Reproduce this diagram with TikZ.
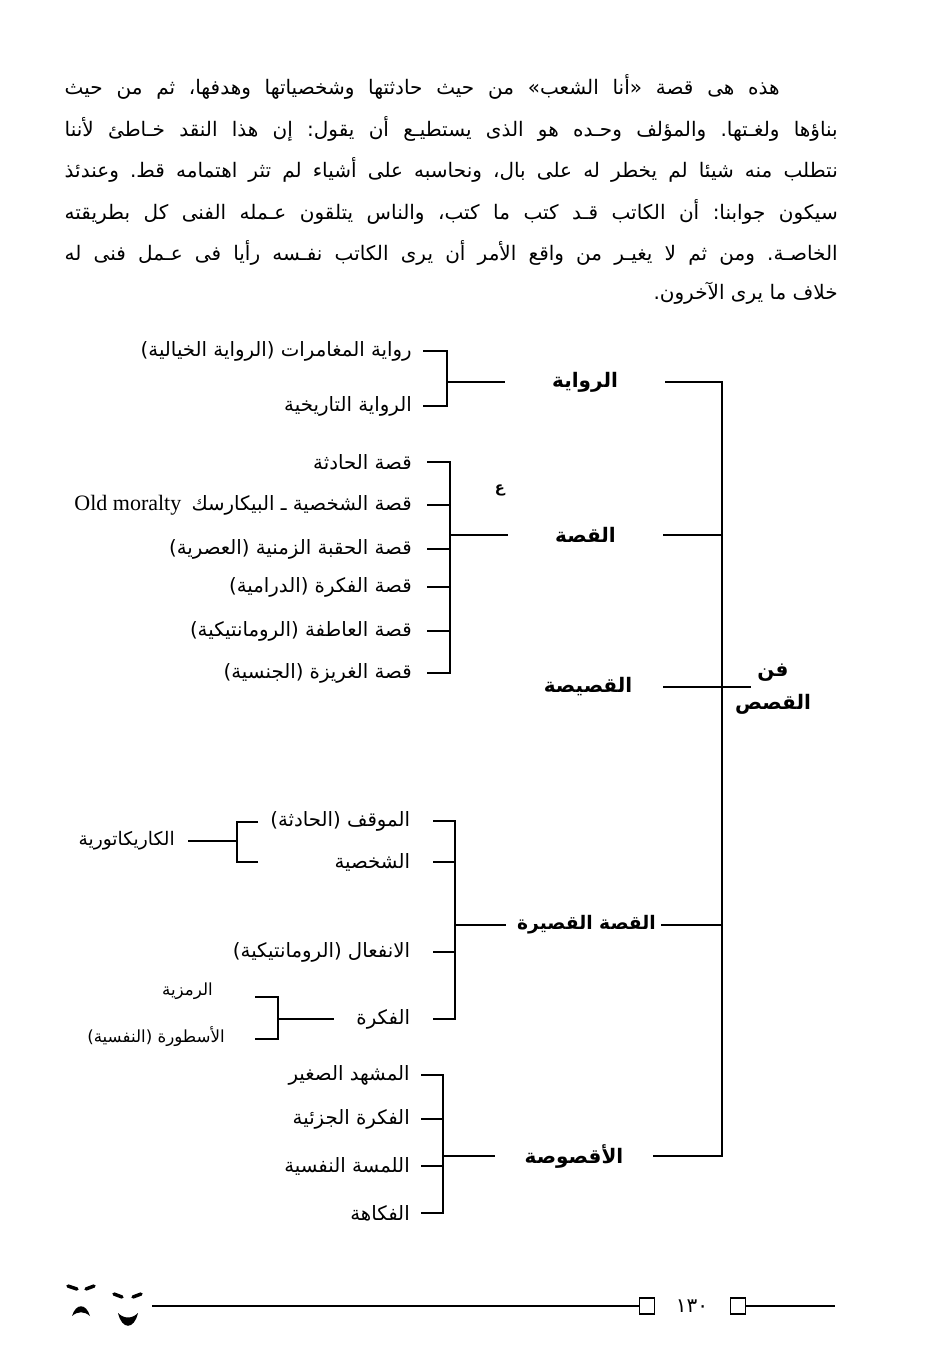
\documentclass[tikz,border=0pt]{standalone}
\usepackage{fontspec}
\setmainfont{Liberation Serif}
\newfontfamily\arabicfont[Script=Arabic]{DejaVu Sans}
\TeXXeTstate=1
\frenchspacing
\newcommand{\artext}[1]{\beginR #1\endR}
\begin{document}
\begin{tikzpicture}[x=0.75pt,y=-0.75pt,
  body/.style={anchor=east, inner sep=0, font=\arabicfont\fontsize{15}{18}\selectfont},
  leaf/.style={anchor=east, inner ysep=1pt, inner xsep=#1, font=\arabicfont\fontsize{14.8}{17}\selectfont},
  small/.style={anchor=east, inner sep=0, font=\arabicfont\fontsize{12.5}{15}\selectfont},
  lvl/.style={inner sep=0, minimum width=#1, font=\arabicfont\bfseries\fontsize{15}{17}\selectfont},
  ln/.style={line width=1.4pt},
  mainln/.style={line width=2pt},
  sq/.style={draw, line width=1.1pt, minimum width=11pt, minimum height=12pt, inner sep=0}]
\useasboundingbox (0,0) rectangle (926,1371);
\fill[white] (0,0) rectangle (926,1371);

% ---------- paragraph ----------
\node[body] (p1) at (780,87) {\hbox to 536.25pt{\artext{هذه هى قصة «أنا الشعب» من حيث حادثتها وشخصياتها وهدفها، ثم من حيث}}};
\node[body] (p2) at (838,129) {\hbox to 579.75pt{\artext{بناؤها ولغـتها. والمؤلف وحـده هو الذى يستطيـع أن يقول: إن هذا النقد خـاطئ لأننا}}};
\node[body] (p3) at (838,170) {\hbox to 579.75pt{\artext{نتطلب منه شيئا لم يخطر له على بال، ونحاسبه على أشياء لم تثر اهتمامه قط. وعندئذ}}};
\node[body] (p4) at (838,212) {\hbox to 579.75pt{\artext{سيكون جوابنا: أن الكاتب قـد كتب ما كتب، والناس يتلقون عـمله الفنى كل بطريقته}}};
\node[body] (p5) at (838,253) {\hbox to 579.75pt{\artext{الخاصـة. ومن ثم لا يغيـر من واقع الأمر أن يرى الكاتب نفـسه رأيا فى عـمل فنى له}}};
\node[body] (p6) at (838,293) {\artext{خلاف ما يرى الآخرون.}};

% ---------- level 1 ----------
\coordinate (top) at (722,382);
\coordinate (bot) at (722,1156);
\node[lvl=120pt] (n1) at (585,382) {\artext{الرواية}};
\node[lvl=116pt] (n2) at (585.5,535) {\artext{القصة}};
\node[lvl=112.5pt] (n3) at (588,687) {\artext{القصيصة}};
\node[lvl=111.75pt, font=\arabicfont\bfseries\fontsize{14}{17}\selectfont] (n4) at (586.5,925) {\artext{القصة القصيرة}};
\node[lvl=118.5pt] (n5) at (574,1156) {\artext{الأقصوصة}};
\node[inner xsep=5pt, inner ysep=0, font=\arabicfont\bfseries\fontsize{15}{17}\selectfont] (fan) at (773,673) {\artext{فن}};
\node[inner sep=0, font=\arabicfont\bfseries\fontsize{15}{17}\selectfont] (qasas) at (773,704) {\artext{القصص}};
\node[inner sep=0, font=\arabicfont\bfseries\fontsize{11}{13}\selectfont] (ain) at (500,490) {\artext{ع}};

\draw[mainln] (n1.east) -- (top) -- (bot) -- (n5.east);
\draw[ln] (n2.east) -- (n2.east -| top);
\draw[ln] (n3.east) -- (fan.west |- n3.east);
\draw[ln] (n4.east) -- (n4.east -| top);

% ---------- group 1 ----------
\node[leaf=8.25pt] (a1) at (423,351) {\artext{رواية المغامرات (الرواية الخيالية)}};
\node[leaf=8.25pt] (a2) at (423,406) {\artext{الرواية التاريخية}};
\coordinate (j1) at (447,382);
\draw[ln] (a1.east) -| (j1);
\draw[ln] (a2.east) -| (j1);
\draw[ln] (j1) -- (n1.west);

% ---------- group 2 ----------
\node[leaf=11.25pt] (b1) at (427,462) {\artext{قصة الحادثة}};
\node[leaf=11.25pt] (b2) at (427,505) {\artext{قصة الشخصية ـ البيكارسك}};
\node[anchor=east, inner sep=0, xshift=4pt, font=\fontsize{16.5}{18}\selectfont] (om) at (b2.west) {Old moralty};
\node[leaf=11.25pt] (b3) at (427,549) {\artext{قصة الحقبة الزمنية (العصرية)}};
\node[leaf=11.25pt] (b4) at (427,587) {\artext{قصة الفكرة (الدرامية)}};
\node[leaf=11.25pt] (b5) at (427,631) {\artext{قصة العاطفة (الرومانتيكية)}};
\node[leaf=11.25pt] (b6) at (427,673) {\artext{قصة الغريزة (الجنسية)}};
\coordinate (j2) at (450,535);
\draw[ln] (b1.east) -| (j2);
\draw[ln] (b6.east) -| (j2);
\foreach \b in {b2,b3,b4,b5} \draw[ln] (\b.east) -- (\b.east -| j2);
\draw[ln] (j2) -- (n2.west);

% ---------- group 3 ----------
\node[leaf=17pt] (c1) at (433,821) {\artext{الموقف (الحادثة)}};
\node[leaf=17pt] (c2) at (433,862) {\artext{الشخصية}};
\node[leaf=17pt] (c3) at (433,952) {\artext{الانفعال (الرومانتيكية)}};
\node[leaf=17pt] (c4) at (433,1019) {\artext{الفكرة}};
\coordinate (j3) at (455,925);
\draw[ln] (c1.east) -| (j3);
\draw[ln] (c4.east) -| (j3);
\foreach \c in {c2,c3} \draw[ln] (\c.east) -- (\c.east -| j3);
\draw[ln] (j3) -- ([xshift=-4pt]n4.west);

% sub-bracket: caricature
\node[small, inner xsep=9.75pt, font=\arabicfont\fontsize{14}{16}\selectfont] (kar) at (188,841) {\artext{الكاريكاتورية}};
\coordinate (k1) at (258,822);
\coordinate (k2) at (258,862);
\coordinate (kj) at (237,841);
\draw[ln] (k1) -| (kj);
\draw[ln] (k2) -| (kj);
\draw[ln] (kar.east) -- (kj);

% sub-bracket: idea
\node[small] (ramz) at (213,991) {\artext{الرمزية}};
\node[small] (ust) at (225,1037) {\artext{الأسطورة (النفسية)}};
\coordinate (f1) at (255,997);
\coordinate (f2) at (255,1039);
\coordinate (fj) at (278,1019);
\draw[ln] (f1) -| (fj);
\draw[ln] (f2) -| (fj);
\draw[ln] (fj) -- (c4.west);

% ---------- group 4 ----------
\node[leaf=8.25pt] (d1) at (421,1075) {\artext{المشهد الصغير}};
\node[leaf=8.25pt] (d2) at (421,1119) {\artext{الفكرة الجزئية}};
\node[leaf=8.25pt] (d3) at (421,1166) {\artext{اللمسة النفسية}};
\node[leaf=8.25pt] (d4) at (421,1213) {\artext{الفكاهة}};
\coordinate (j4) at (443,1156);
\draw[ln] (d1.east) -| (j4);
\draw[ln] (d4.east) -| (j4);
\foreach \d in {d2,d3} \draw[ln] (\d.east) -- (\d.east -| j4);
\draw[ln] (j4) -- (n5.west);

% ---------- footer ----------
\coordinate (footl) at (152,1306);
\coordinate (footr) at (835,1306);
\node[sq] (sq1) at (647,1306) {};
\node[inner sep=0, font=\arabicfont\fontsize{15}{17}\selectfont] (pg) at (692,1306) {\artext{١٣٠}};
\node[sq] (sq2) at (738,1306) {};
\draw[line width=1.3pt] (footl) -- (sq1.west);
\draw[line width=1.3pt] (sq2.east) -- (footr);

% masks
\draw[line width=2.6pt, line cap=round] (68,1286) -- (77,1289);
\draw[line width=2.6pt, line cap=round] (86,1289) -- (94,1286);
\fill (72,1316) .. controls (76,1303) and (86,1303) .. (90,1316) .. controls (84,1311) and (78,1311) .. (72,1316) -- cycle;
\draw[line width=2.6pt, line cap=round] (114,1294) -- (122,1297);
\draw[line width=2.6pt, line cap=round] (133,1297) -- (141,1294);
\fill (118,1313) .. controls (122,1330) and (134,1330) .. (138,1313) .. controls (132,1319) and (124,1319) .. (118,1313) -- cycle;
\end{tikzpicture}
\end{document}
